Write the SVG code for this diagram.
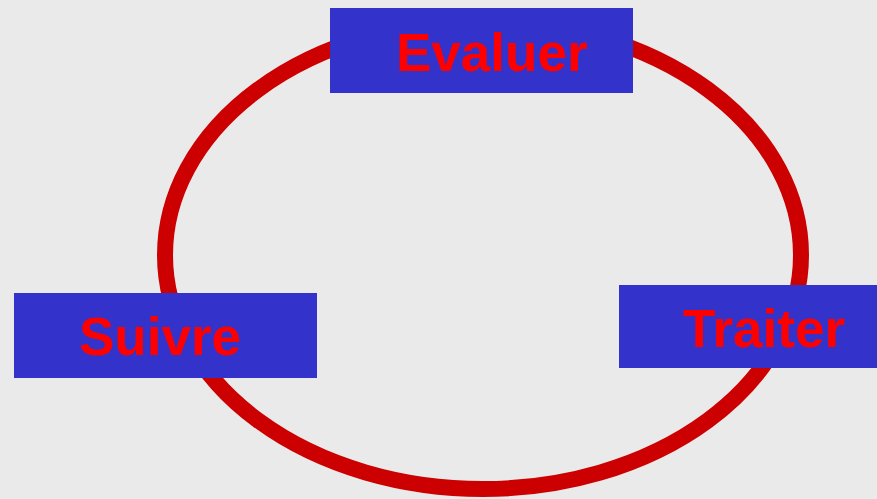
<svg xmlns="http://www.w3.org/2000/svg" width="877" height="499" viewBox="0 0 877 499">
  <style>
    .box { fill: #3333CC; }
    .lbl { fill: #FF0000; font-family: "Liberation Sans", Arial, sans-serif; font-weight: bold; font-size: 53px; }
    .cycle { fill: none; stroke: #CC0000; stroke-width: 16; }
  </style>
  <rect width="877" height="499" fill="#EAEAEA"/>
  <g id="connectors">
    <ellipse class="cycle" cx="483" cy="255" rx="318" ry="234"/>
  </g>
  <g id="evaluer">
    <rect class="box" x="330" y="8" width="303" height="85"/>
    <text class="lbl" x="396" y="71">Evaluer</text>
  </g>
  <g id="suivre">
    <rect class="box" x="14" y="293" width="303" height="85"/>
    <text class="lbl" x="79" y="355">Suivre</text>
  </g>
  <g id="traiter">
    <rect class="box" x="619" y="285" width="258" height="83"/>
    <text class="lbl" x="683" y="347">Traiter</text>
  </g>
</svg>
